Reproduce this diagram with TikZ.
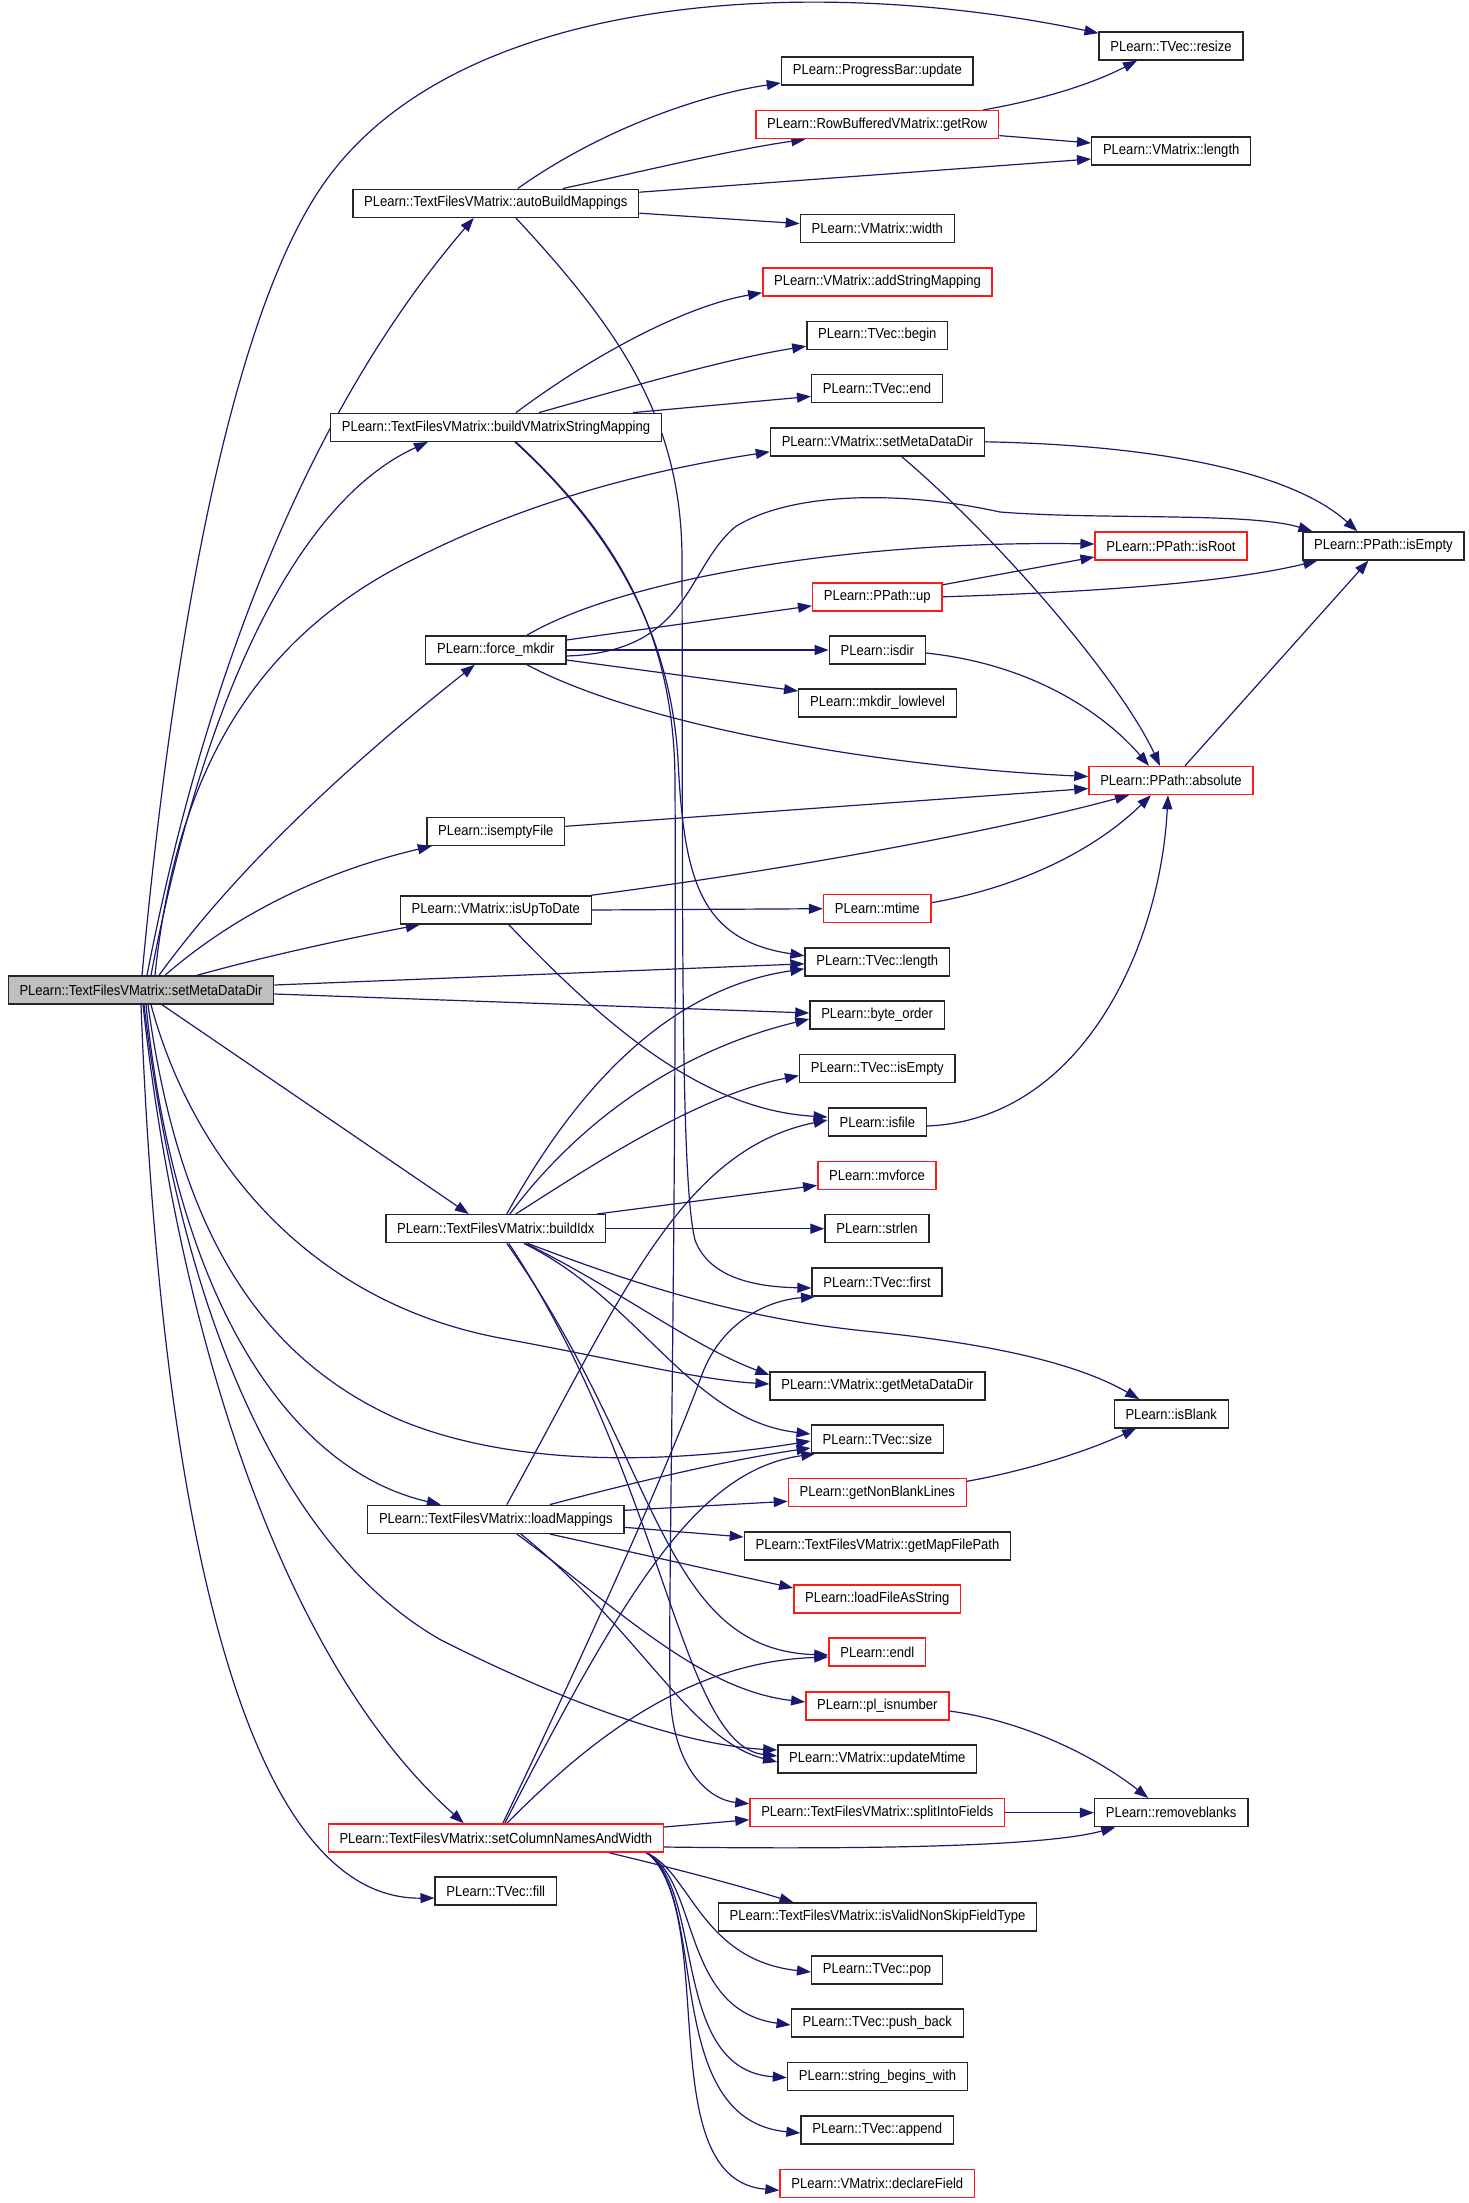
\documentclass[tikz,border=0pt]{standalone}
\usepackage{fontspec}
\setmainfont{Liberation Sans}[FakeStretch=0.9]
\usetikzlibrary{arrows.meta,backgrounds}
\definecolor{edgec}{HTML}{191970}
\definecolor{grayfill}{HTML}{BFBFBF}
\definecolor{redb}{HTML}{FF1A1A}
\begin{document}
\begin{tikzpicture}[x=1pt,y=-1pt,
  fn/.style={draw=black!85, line width=1.4pt, fill=white, minimum height=28pt,
    inner xsep=11.3pt, inner ysep=0pt, font=\fontsize{14.5pt}{17pt}\selectfont},
  rn/.style={fn, draw=redb},
  sn/.style={fn, fill=grayfill},
  e/.style={draw=edgec, line width=1.2pt, -{Triangle[length=14pt,width=10pt]}}]
\useasboundingbox (0,0) rectangle (1469,2203);

\node[sn] (S) at (141,990) {PLearn::TextFilesVMatrix::setMetaDataDir};
\node[fn] (A) at (495.8,203.2) {PLearn::TextFilesVMatrix::autoBuildMappings};
\node[fn] (B) at (496,427.3) {PLearn::TextFilesVMatrix::buildVMatrixStringMapping};
\node[fn] (FM) at (495.8,650) {PLearn::force\_mkdir};
\node[fn] (IEF) at (495.8,831.3) {PLearn::isemptyFile};
\node[fn] (IUTD) at (495.8,910) {PLearn::VMatrix::isUpToDate};
\node[fn] (BI) at (495.8,1228.7) {PLearn::TextFilesVMatrix::buildIdx};
\node[fn] (LM) at (495.8,1519.3) {PLearn::TextFilesVMatrix::loadMappings};
\node[rn] (SC) at (495.8,1838) {PLearn::TextFilesVMatrix::setColumnNamesAndWidth};
\node[fn] (FILL) at (495.8,1891) {PLearn::TVec::fill};
\node[fn] (resize) at (1171,46) {PLearn::TVec::resize};
\node[fn] (update) at (877.3,71) {PLearn::ProgressBar::update};
\node[rn] (getRow) at (877.3,124.6) {PLearn::RowBufferedVMatrix::getRow};
\node[fn] (vmlength) at (1171.2,151) {PLearn::VMatrix::length};
\node[fn] (width) at (877.3,228.6) {PLearn::VMatrix::width};
\node[rn] (addSM) at (877.5,281.8) {PLearn::VMatrix::addStringMapping};
\node[fn] (begin) at (877.3,335.2) {PLearn::TVec::begin};
\node[fn] (tend) at (877,388.4) {PLearn::TVec::end};
\node[fn] (vmsmdd) at (877.5,441.8) {PLearn::VMatrix::setMetaDataDir};
\node[rn] (isRoot) at (1171,546) {PLearn::PPath::isRoot};
\node[fn] (pEmpty) at (1383.4,546) {PLearn::PPath::isEmpty};
\node[rn] (up) at (877.3,596.8) {PLearn::PPath::up};
\node[fn] (isdir) at (877.3,650) {PLearn::isdir};
\node[fn] (mkdir) at (877.5,703) {PLearn::mkdir\_lowlevel};
\node[rn] (absolute) at (1171,780.5) {PLearn::PPath::absolute};
\node[rn] (mtime) at (877.3,908.7) {PLearn::mtime};
\node[fn] (tlength) at (877.3,961.8) {PLearn::TVec::length};
\node[fn] (byteorder) at (877.1,1015) {PLearn::byte\_order};
\node[fn] (tEmpty) at (877.3,1068.6) {PLearn::TVec::isEmpty};
\node[fn] (isfile) at (877.3,1122) {PLearn::isfile};
\node[rn] (mvforce) at (877,1175.4) {PLearn::mvforce};
\node[fn] (strlen) at (877,1228.7) {PLearn::strlen};
\node[fn] (first) at (877,1282) {PLearn::TVec::first};
\node[fn] (getMDD) at (877.5,1386) {PLearn::VMatrix::getMetaDataDir};
\node[fn] (isBlank) at (1171.2,1413.8) {PLearn::isBlank};
\node[fn] (size) at (877.3,1439) {PLearn::TVec::size};
\node[rn] (gnbl) at (877.3,1492.3) {PLearn::getNonBlankLines};
\node[fn] (gmfp) at (877.5,1546) {PLearn::TextFilesVMatrix::getMapFilePath};
\node[rn] (lfas) at (877.3,1599) {PLearn::loadFileAsString};
\node[rn] (endl) at (877.3,1652) {PLearn::endl};
\node[rn] (plisnum) at (877.3,1706) {PLearn::pl\_isnumber};
\node[fn] (updMtime) at (877.3,1759) {PLearn::VMatrix::updateMtime};
\node[rn] (split) at (877.3,1812.7) {PLearn::TextFilesVMatrix::splitIntoFields};
\node[fn] (rmblanks) at (1171.2,1812.7) {PLearn::removeblanks};
\node[fn] (isValid) at (877.5,1917) {PLearn::TextFilesVMatrix::isValidNonSkipFieldType};
\node[fn] (pop) at (877,1970) {PLearn::TVec::pop};
\node[fn] (pushback) at (877.3,2023) {PLearn::TVec::push\_back};
\node[fn] (sbw) at (877.5,2076.6) {PLearn::string\_begins\_with};
\node[fn] (append) at (877.3,2130) {PLearn::TVec::append};
\node[rn] (declare) at (877.3,2183.3) {PLearn::VMatrix::declareField};

\begin{scope}[on background layer]
% from setMetaDataDir
\draw[e] ([xshift=1pt]S.north) .. controls (175,620) and (235,300) .. (330,175) .. controls (470,-10) and (820,-25) .. (resize.170);
\draw[e] ([xshift=6pt]S.north) .. controls (200,700) and (300,420) .. ([xshift=-22pt]A.south);
\draw[e] ([xshift=10pt]S.north) .. controls (205,690) and (300,500) .. ([xshift=-68pt]B.south);
\draw[e] ([xshift=14pt]S.north) .. controls (175,780) and (250,640) .. (412,560) .. controls (530,500) and (650,470) .. ([yshift=-10pt]vmsmdd.west);
\draw[e] ([xshift=18pt]S.north) .. controls (250,850) and (380,740) .. ([xshift=-21pt]FM.south);
\draw[e] ([xshift=24pt]S.north) .. controls (240,910) and (330,870) .. ([xshift=-64pt]IEF.south);
\draw[e] ([xshift=56pt]S.north) .. controls (270,955) and (350,938) .. ([xshift=-76pt]IUTD.south);
\draw[e] ([yshift=5pt]S.east) -- ([yshift=-2pt]tlength.west);
\draw[e] ([yshift=-4pt]S.east) -- ([yshift=2pt]byteorder.west);
\draw[e] ([xshift=21pt]S.south) -- ([xshift=-27pt]BI.north);
\draw[e] ([xshift=10pt]S.south) .. controls (190,1150) and (300,1300) .. (500,1338) .. controls (620,1360) and (700,1380) .. ([yshift=2pt]getMDD.west);
\draw[e] ([xshift=7pt]S.south) .. controls (175,1200) and (240,1350) .. (400,1420) .. controls (520,1470) and (680,1462) .. ([yshift=-2pt]size.west);
\draw[e] ([xshift=5pt]S.south) .. controls (175,1300) and (290,1470) .. ([xshift=-55pt]LM.north);
\draw[e] ([xshift=3pt]S.south) .. controls (185,1350) and (300,1560) .. (441,1640) .. controls (560,1700) and (680,1745) .. ([yshift=9pt]updMtime.west);
\draw[e] ([xshift=2pt]S.south) .. controls (175,1300) and (270,1650) .. ([xshift=-32pt]SC.north);
\draw[e] (S.south) .. controls (160,1500) and (240,1900) .. ([yshift=-7pt]FILL.west);
% autoBuildMappings
\draw[e] ([xshift=22pt]A.north) .. controls (600,130) and (700,95) .. ([yshift=-12pt]update.west);
\draw[e] ([xshift=67pt]A.north) .. controls (640,172) and (730,150) .. ([xshift=-72pt]getRow.south);
\draw[e] ([yshift=11pt]A.east) -- ([yshift=-8pt]vmlength.west);
\draw[e] ([yshift=-10pt]A.east) -- ([yshift=5pt]width.west);
\draw[e] ([xshift=20pt]A.south) .. controls (620,330) and (682,420) .. (682,560) .. controls (683,900) and (680,1180) .. (695,1240) .. controls (710,1280) and (760,1287) .. ([yshift=-6pt]first.west);
% getRow
\draw[e] ([xshift=106pt]getRow.north) .. controls (1040,100) and (1090,85) .. ([xshift=-34pt]resize.south);
\draw[e] ([yshift=-11pt]getRow.east) -- ([yshift=8pt]vmlength.west);
% buildVMatrixStringMapping
\draw[e] ([xshift=20pt]B.north) .. controls (600,350) and (690,305) .. ([yshift=-11pt]addSM.west);
\draw[e] ([xshift=43pt]B.north) .. controls (620,390) and (720,360) .. ([yshift=-11pt]begin.west);
\draw[e] ([xshift=137pt]B.north) -- ([yshift=-8pt]tend.west);
\draw[e] ([xshift=19pt]B.south) .. controls (600,520) and (670,620) .. (678,760) .. controls (684,880) and (700,940) .. ([yshift=6pt]tlength.west);
\draw[e] ([xshift=20pt]B.south) .. controls (605,525) and (674,620) .. (675,780) .. controls (677,1200) and (668,1600) .. (670,1690) .. controls (672,1770) and (710,1800) .. ([yshift=9pt]split.west);
% VMatrix::setMetaDataDir
\draw[e] (vmsmdd.east) .. controls (1150,445) and (1290,470) .. ([xshift=-26pt]pEmpty.north);
\draw[e] ([xshift=24pt]vmsmdd.south) .. controls (1000,540) and (1120,680) .. ([xshift=-11pt]absolute.north);
% force_mkdir
\draw[e] ([xshift=31pt]FM.north) .. controls (620,580) and (850,540) .. ([yshift=2pt]isRoot.west);
\draw[e] ([yshift=10pt]FM.east) -- ([yshift=-9pt]up.west);
\draw[e] (FM.east) -- (isdir.west);
\draw[e] ([yshift=-10pt]FM.east) -- ([yshift=12pt]mkdir.west);
\draw[e] ([xshift=31pt]FM.south) .. controls (650,730) and (900,768) .. ([yshift=4pt]absolute.west);
\draw[e] ([yshift=-6pt]FM.east) .. controls (690,652) and (685,570) .. (735,527) .. controls (790,492) and (900,490) .. (1000,512) .. controls (1100,520) and (1250,512) .. ([xshift=-71pt]pEmpty.north);
% up, isdir, absolute, mtime, isfile
\draw[e] ([yshift=12pt]up.east) -- ([yshift=-11pt]isRoot.west);
\draw[e] (up.east) .. controls (1100,592) and (1230,582) .. ([xshift=-66pt]pEmpty.south);
\draw[e] ([yshift=-3pt]isdir.east) .. controls (1040,665) and (1110,720) .. ([xshift=-22pt]absolute.north);
\draw[e] ([xshift=14pt]absolute.north) -- ([xshift=-15pt]pEmpty.south);
\draw[e] ([yshift=6pt]mtime.east) .. controls (1030,885) and (1100,845) .. ([xshift=-20pt]absolute.south);
\draw[e] ([yshift=-4pt]isfile.east) .. controls (1080,1120) and (1160,950) .. ([xshift=-3pt]absolute.south);
% isemptyFile, isUpToDate
\draw[e] ([yshift=5pt]IEF.east) -- ([yshift=-8pt]absolute.west);
\draw[e] ([xshift=95pt]IUTD.north) .. controls (800,868) and (1000,830) .. ([xshift=-42pt]absolute.south);
\draw[e] (IUTD.east) -- (mtime.west);
\draw[e] ([xshift=13pt]IUTD.south) .. controls (600,1020) and (700,1110) .. ([yshift=5pt]isfile.west);
% buildIdx
\draw[e] ([xshift=11pt]BI.north) .. controls (570,1100) and (660,990) .. ([yshift=-7pt]tlength.west);
\draw[e] ([xshift=14pt]BI.north) .. controls (580,1120) and (680,1050) .. ([yshift=-4pt]byteorder.west);
\draw[e] ([xshift=20pt]BI.north) .. controls (600,1160) and (700,1095) .. ([yshift=-7pt]tEmpty.west);
\draw[e] ([xshift=101pt]BI.north) -- ([yshift=-10pt]mvforce.west);
\draw[e] (BI.east) -- (strlen.west);
\draw[e] ([xshift=32pt]BI.south) .. controls (650,1290) and (750,1320) .. (875,1332) .. controls (1000,1345) and (1080,1365) .. ([xshift=-32pt]isBlank.north);
\draw[e] ([xshift=30pt]BI.south) .. controls (620,1290) and (690,1345) .. ([yshift=11pt]getMDD.west);
\draw[e] ([xshift=28pt]BI.south) .. controls (640,1300) and (690,1420) .. ([yshift=5pt]size.west);
\draw[e] ([xshift=11pt]BI.south) .. controls (660,1460) and (660,1650) .. ([yshift=-3pt]endl.west);
\draw[e] ([xshift=13pt]BI.south) .. controls (665,1480) and (680,1745) .. ([yshift=3pt]updMtime.west);
% getNonBlankLines
\draw[e] ([yshift=11pt]gnbl.east) .. controls (1030,1470) and (1090,1450) .. ([xshift=-35pt]isBlank.south);
% loadMappings
\draw[e] ([xshift=11pt]LM.north) .. controls (620,1300) and (680,1150) .. ([yshift=2pt]isfile.west);
\draw[e] ([xshift=54pt]LM.north) .. controls (650,1478) and (740,1458) .. ([yshift=-9pt]size.west);
\draw[e] ([yshift=9pt]LM.east) -- ([yshift=-9pt]gnbl.west);
\draw[e] ([yshift=-8pt]LM.east) -- ([yshift=9pt]gmfp.west);
\draw[e] ([xshift=54pt]LM.south) -- ([yshift=11pt]lfas.west);
\draw[e] ([xshift=21pt]LM.south) .. controls (620,1610) and (700,1690) .. ([yshift=4pt]plisnum.west);
\draw[e] ([xshift=25pt]LM.south) .. controls (640,1630) and (690,1740) .. ([yshift=-3pt]updMtime.west);
% setColumnNamesAndWidth
\draw[e] ([yshift=11pt]SC.east) -- ([yshift=-7pt]split.west);
\draw[e] ([yshift=-9pt]SC.east) .. controls (900,1850) and (1050,1845) .. ([xshift=-56pt]rmblanks.south);
\draw[e] ([xshift=113pt]SC.south) .. controls (660,1865) and (720,1880) .. ([xshift=-84pt]isValid.north);
\draw[e] ([xshift=150pt]SC.south) .. controls (690,1870) and (700,1960) .. ([yshift=-2pt]pop.west);
\draw[e] ([xshift=150pt]SC.south) .. controls (700,1880) and (680,2010) .. ([yshift=-2pt]pushback.west);
\draw[e] ([xshift=151pt]SC.south) .. controls (705,1890) and (670,2070) .. ([yshift=-1pt]sbw.west);
\draw[e] ([xshift=151pt]SC.south) .. controls (710,1900) and (660,2120) .. ([yshift=-3pt]append.west);
\draw[e] ([xshift=152pt]SC.south) .. controls (720,1920) and (650,2180) .. ([yshift=-7pt]declare.west);
\draw[e] ([xshift=11pt]SC.north) .. controls (580,1750) and (680,1662) .. ([yshift=-5pt]endl.west);
\draw[e] ([xshift=7pt]SC.north) .. controls (600,1620) and (670,1460) .. (700,1380) .. controls (720,1320) and (770,1300) .. ([xshift=-62pt]first.south);
\draw[e] ([xshift=9pt]SC.north) .. controls (630,1580) and (700,1470) .. ([xshift=-62pt]size.south);
% others
\draw[e] ([yshift=-5pt]plisnum.east) .. controls (1030,1722) and (1100,1760) .. ([xshift=-23pt]rmblanks.north);
\draw[e] (split.east) -- (rmblanks.west);
\end{scope}
\end{tikzpicture}
\end{document}
